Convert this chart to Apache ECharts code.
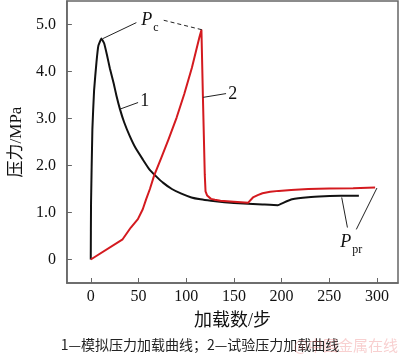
<!DOCTYPE html>
<html>
<head>
<meta charset="utf-8">
<script src="https://cdn.jsdelivr.net/npm/echarts@6/dist/echarts.min.js"></script>
<style>html,body{margin:0;padding:0;background:#fff}#c{width:400px;height:357px}</style>
</head>
<body>
<div id="c"></div>
<script>
// Curve 1 (simulated pressure loading curve)
const steps1 = [0,0.3,1.7,3.5,6,8,11.2,14,17,20,24,27,30.6,35,40.8,47,54.5,61,68,76,85,95,105.5,115,126,140,160,180,196,201,211,228,245,262,281];
const press1 = [0,1.2,2.77,3.6,4.2,4.55,4.70,4.6,4.35,4.07,3.75,3.48,3.2,2.92,2.63,2.37,2.13,1.93,1.78,1.63,1.50,1.40,1.32,1.28,1.25,1.22,1.19,1.17,1.155,1.2,1.28,1.325,1.345,1.355,1.355];
// Curve 2 (test pressure loading curve)
const steps2 = [0,33.4,42,49.4,54.5,58,62,66.3,74,81.6,90,98,106,114,116,117.5,119.5,120.3,122,126,130,136,150,165,167,170,175,180,188,197,210,228,250,275,298];
const press2 = [0,0.43,0.68,0.86,1.07,1.28,1.5,1.78,2.17,2.56,3.02,3.52,4.08,4.74,4.88,3.5,1.8,1.45,1.36,1.29,1.27,1.25,1.23,1.21,1.22,1.32,1.37,1.41,1.44,1.46,1.48,1.50,1.51,1.515,1.53];
const xTicks = [0,50,100,150,200,250,300];
const yTicks = [0,1,2,3,4,5];
const xName = '加载数/步';
const yName = '压力/MPa';
const caption = '1—模拟压力加载曲线；2—试验压力加载曲线';
const watermark = '@中国金属在线';

const pair = (xs, ys) => xs.map((x, i) => [x, ys[i]]);
const serif = "'Liberation Serif','Noto Sans CJK SC',serif";
const lead = (a, b, dashed) => [{coord: a, lineStyle: {type: dashed ? [4,3] : 'solid'}}, {coord: b}];

const chart = echarts.init(document.getElementById('c'), null, {renderer: 'canvas'});
chart.setOption({
  animation: false,
  backgroundColor: '#fff',
  grid: {left: 59, right: 2, top: 1, bottom: 74, show: true, borderColor: '#666', borderWidth: 1.5},
  xAxis: {
    type: 'value', min: -25, max: 322,
    name: xName, nameLocation: 'middle', nameGap: 29,
    nameTextStyle: {fontFamily: serif, fontSize: 18, color: '#111'},
    axisLine: {show: true, onZero: false, lineStyle: {color: '#666', width: 1.5}},
    axisTick: {show: true, inside: true, length: 5, customValues: xTicks, lineStyle: {color: '#666'}},
    axisLabel: {customValues: xTicks, fontFamily: serif, fontSize: 16, color: '#111', margin: 6},
    splitLine: {show: false}
  },
  yAxis: {
    type: 'value', min: -0.5, max: 5.5,
    name: yName, nameLocation: 'middle', nameGap: 40, nameRotate: 90,
    nameTextStyle: {fontFamily: serif, fontSize: 17, color: '#111'},
    axisLine: {show: true, onZero: false, lineStyle: {color: '#666', width: 1.5}},
    axisTick: {show: true, inside: true, length: 5, customValues: yTicks, lineStyle: {color: '#666'}},
    axisLabel: {customValues: yTicks, fontFamily: serif, fontSize: 16, color: '#111', margin: 11,
      formatter: v => v === 0 ? '0' : v.toFixed(1)},
    splitLine: {show: false}
  },
  series: [
    {
      type: 'line', data: pair(steps1, press1), showSymbol: false, smooth: 0.12,
      lineStyle: {color: '#111', width: 2, join: 'round'}, z: 3,
      markLine: {
        silent: true, symbol: 'none', animation: false,
        lineStyle: {color: '#222', width: 1},
        label: {show: false},
        data: [
          lead([12.7, 4.70], [47.8, 5.04]),
          lead([76.5, 5.09], [116.2, 4.89], true),
          lead([30.7, 3.20], [49.6, 3.34]),
          lead([117.8, 3.45], [141.8, 3.53]),
          lead([263, 1.32], [269, 0.68]),
          lead([299.9, 1.52], [278.3, 0.64])
        ]
      },
      markPoint: {
        silent: true, symbol: 'circle', symbolSize: 0,
        label: {show: true, position: 'inside', color: '#111', fontFamily: serif},
        data: [
          {coord: [62, 5.08], label: {formatter: '{p|P}{s|c}', rich: {
            p: {fontStyle: 'italic', fontSize: 18, fontFamily: serif, color: '#111', lineHeight: 20},
            s: {fontSize: 12, fontFamily: serif, color: '#111', verticalAlign: 'bottom', lineHeight: 12, padding: [0,0,-3,1]}}}},
          {coord: [56.6, 3.37], label: {formatter: '1', fontSize: 18}},
          {coord: [148.8, 3.52], label: {formatter: '2', fontSize: 18}},
          {coord: [273, 0.37], label: {formatter: '{p|P}{s|pr}', rich: {
            p: {fontStyle: 'italic', fontSize: 18, fontFamily: serif, color: '#111', lineHeight: 20},
            s: {fontSize: 12, fontFamily: serif, color: '#111', verticalAlign: 'bottom', lineHeight: 12, padding: [0,0,-4,1]}}}}
        ]
      }
    },
    {
      type: 'line', data: pair(steps2, press2), showSymbol: false, smooth: false,
      lineStyle: {color: '#d41a1f', width: 2, join: 'round'}, z: 4
    }
  ],
  graphic: [
    {type: 'text', left: 'center', top: 338, z: 10,
      style: {text: caption, font: "14px 'Noto Sans CJK SC'", fill: '#222'}},
    {type: 'text', right: 2, top: 338, z: 11,
      style: {text: watermark, font: "15px 'Noto Sans CJK SC'", fill: 'rgba(235,120,120,0.35)'}}
  ]
});
</script>
</body>
</html>
